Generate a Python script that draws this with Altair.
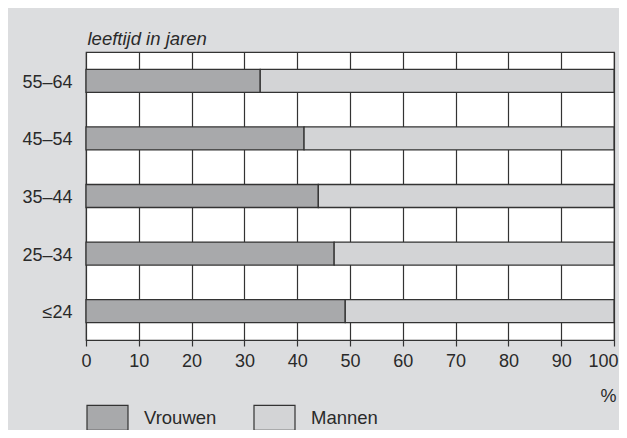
import altair as alt
import pandas as pd

ages = ["55–64", "45–54", "35–44", "25–34", "≤24"]
vrouwen = [33.0, 41.3, 44.0, 47.0, 49.1]
mannen = [67.0, 58.7, 56.0, 53.0, 50.9]
groups = ["Vrouwen", "Mannen"]
x_ticks = [0, 10, 20, 30, 40, 50, 60, 70, 80, 90, 100]

rows = []
for a, v, m in zip(ages, vrouwen, mannen):
    rows.append({"leeftijd": a, "groep": "Vrouwen", "waarde": v, "volgorde": 0})
    rows.append({"leeftijd": a, "groep": "Mannen", "waarde": m, "volgorde": 1})
df = pd.DataFrame(rows)

FONT = "Liberation Sans"
INK = "#2a2a2a"

chart = alt.Chart(df).mark_bar(stroke="#333333", strokeWidth=1.3).encode(
    y=alt.Y("leeftijd:N", sort=ages,
            scale=alt.Scale(paddingInner=0.6, paddingOuter=0.3),
            axis=alt.Axis(title="leeftijd in jaren", titleAngle=0, titleX=1, titleY=-8,
                          titleAlign="left", titleBaseline="alphabetic",
                          titleFontStyle="italic", titleFontWeight="normal",
                          titleFontSize=18.5, titleFont=FONT, titleColor=INK,
                          domain=False, ticks=False, labelFontSize=18, labelFont=FONT,
                          labelColor=INK, labelPadding=14, labelOffset=2)),
    x=alt.X("waarde:Q", stack="zero",
            scale=alt.Scale(domain=[0, 100], nice=False),
            axis=alt.Axis(title="%", values=x_ticks, titleX=530, titleY=61,
                          titleAlign="right", titleBaseline="alphabetic",
                          titleFontWeight="normal", titleFontSize=18, titleFont=FONT,
                          titleColor=INK,
                          grid=True, gridColor="#333333", gridWidth=1.2, gridOpacity=1,
                          domain=True, domainColor="#333333", domainWidth=1.2,
                          ticks=True, tickSize=6, tickColor="#333333", tickWidth=1.2,
                          labelFontSize=18, labelFont=FONT, labelColor=INK,
                          labelPadding=6, labelFlush=False,
                          labelOffset={"condition": {"test": "datum.value == 100", "value": -11},
                                       "value": 0})),
    color=alt.Color("groep:N", sort=groups,
                    scale=alt.Scale(domain=groups, range=["#a8a9ab", "#d3d4d6"]),
                    legend=alt.Legend(title=None, orient="none", direction="horizontal",
                                      legendX=0, legendY=344, padding=0,
                                      symbolType="M-1,-0.61L1,-0.61L1,0.61L-1,0.61Z",
                                      symbolSize=1681, symbolStrokeColor="#333333",
                                      symbolStrokeWidth=1.2, symbolOpacity=1,
                                      labelFontSize=18.5, labelFont=FONT, labelColor=INK,
                                      labelOffset=15, columnPadding=34)),
    order=alt.Order("volgorde:Q"),
).properties(
    width=528,
    height=288,
    autosize=alt.AutoSizeParams(type="none"),
    padding={"left": 78, "top": 44, "right": 5, "bottom": 90},
    background="#dcdddf",
).configure_view(
    stroke="#333333", strokeWidth=1.2, fill="white"
)

chart.save("out.html", embed_options={"renderer": "svg", "actions": False})
